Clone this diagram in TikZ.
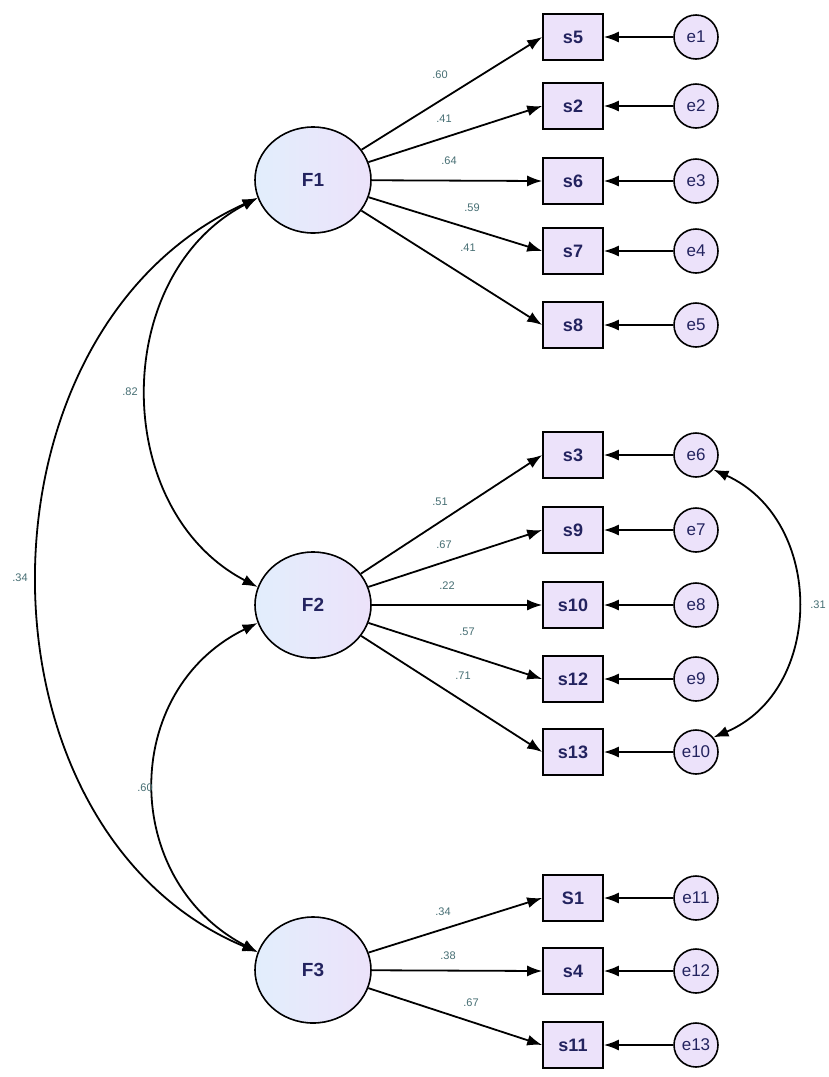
\documentclass[tikz,border=0pt]{standalone}
\usepackage{fontspec}
\setmainfont{Liberation Sans}
\usetikzlibrary{arrows.meta,shapes.geometric}
\definecolor{lav}{RGB}{236,226,250}
\definecolor{lavL}{RGB}{226,238,252}
\definecolor{navy}{RGB}{35,35,95}
\definecolor{lbl}{RGB}{70,110,115}
\begin{document}
\begin{tikzpicture}[x=1pt,y=-1pt,
  latent/.style={ellipse,draw=black,line width=1.6pt,left color=lavL,right color=lav,minimum width=116pt,minimum height=106pt,inner sep=0pt,font=\fontsize{19}{21}\selectfont\bfseries,text=navy},
  obs/.style={rectangle,draw=black,line width=1.6pt,fill=lav,minimum width=60pt,minimum height=46pt,inner sep=0pt,font=\fontsize{18}{20}\selectfont\bfseries,text=navy},
  err/.style={circle,draw=black,line width=1.6pt,fill=lav,minimum size=44pt,inner sep=0pt,font=\fontsize{17}{19}\selectfont,text=navy},
  arr/.style={line width=1.8pt,-{Latex[length=15pt,width=11pt]}},
  cov/.style={line width=1.8pt,{Latex[length=15pt,width=11pt]}-{Latex[length=15pt,width=11pt]}},
  lab/.style={font=\fontsize{11}{13}\selectfont,text=lbl,inner sep=1pt}]
\useasboundingbox (0,0) rectangle (828,1077);
\fill[white] (0,0) rectangle (828,1077);
% latent
\node[latent] (F1) at (313,180) {F1};
\node[latent] (F2) at (313,605) {F2};
\node[latent] (F3) at (313,970) {F3};
% observed and errors
\foreach \n/\t/\e/\et/\y in {a1/s5/b1/e1/37, a2/s2/b2/e2/106, a3/s6/b3/e3/181, a4/s7/b4/e4/251, a5/s8/b5/e5/325,
  a6/s3/b6/e6/455, a7/s9/b7/e7/530, a8/s10/b8/e8/605, a9/s12/b9/e9/679, a10/s13/b10/e10/752,
  a11/S1/b11/e11/898, a12/s4/b12/e12/971, a13/s11/b13/e13/1045}{
  \node[obs] (\n) at (573,\y) {\t};
  \node[err] (\e) at (696,\y) {\et};
  \draw[arr] (\e) -- (\n);
}
% loadings
\draw[arr] (F1) -- (a1.west);
\draw[arr] (F1) -- (a2.west);
\draw[arr] (F1) -- (a3.west);
\draw[arr] (F1) -- (a4.west);
\draw[arr] (F1) -- (a5.west);
\draw[arr] (F2) -- (a6.west);
\draw[arr] (F2) -- (a7.west);
\draw[arr] (F2) -- (a8.west);
\draw[arr] (F2) -- (a9.west);
\draw[arr] (F2) -- (a10.west);
\draw[arr] (F3) -- (a11.west);
\draw[arr] (F3) -- (a12.west);
\draw[arr] (F3) -- (a13.west);
% loading labels
\node[lab] (l1) at (440,75) {.60};
\node[lab] (l2) at (444,119) {.41};
\node[lab] (l3) at (449,161) {.64};
\node[lab] (l4) at (472,208) {.59};
\node[lab] (l5) at (468,248) {.41};
\node[lab] (l6) at (440,502) {.51};
\node[lab] (l7) at (444,545) {.67};
\node[lab] (l8) at (447,586) {.22};
\node[lab] (l9) at (467,632) {.57};
\node[lab] (l10) at (463,676) {.71};
\node[lab] (l11) at (443,912) {.34};
\node[lab] (l12) at (448,956) {.38};
\node[lab] (l13) at (471,1003) {.67};
% covariances
\draw[cov] (F1.198) .. controls (110,275) and (110,510) .. (F2.162);
\draw[cov] (F1.198) .. controls (-35,330) and (-35,830) .. (F3.162);
\draw[cov] (F2.198) .. controls (120,690) and (120,880) .. (F3.162);
\draw[cov] (b6.-40) .. controls (825,520) and (825,690) .. (b10.40);
\node[lab] (c1) at (130,392) {.82};
\node[lab] (c2) at (20,578) {.34};
\node[lab] (c3) at (145,788) {.60};
\node[lab] (c4) at (818,605) {.31};
\end{tikzpicture}
\end{document}
